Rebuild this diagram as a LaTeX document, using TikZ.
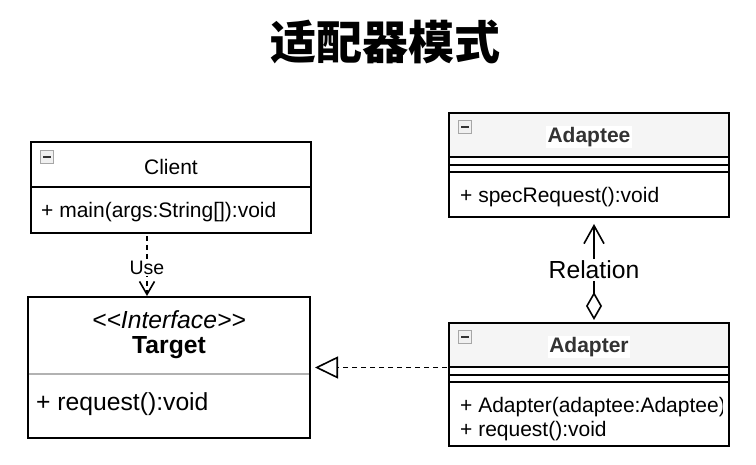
\documentclass[tikz,border=0pt]{standalone}
\usepackage{fontspec}
\setmainfont{Liberation Sans}
\newfontfamily\cjk{Noto Sans CJK SC}
\usetikzlibrary{arrows.meta}
\definecolor{hdr}{HTML}{F5F5F5}
\definecolor{ink}{HTML}{333333}
\begin{document}
\begin{tikzpicture}[x=1pt,y=-1pt,
  box/.style={draw=black,line width=1.8pt,anchor=north west,inner sep=0pt,outer sep=0pt},
  sep/.style={line width=1.8pt},
  txt/.style={font=\fontsize{21}{25}\selectfont,inner sep=0pt},
  big/.style={font=\fontsize{24.7}{29}\selectfont,inner sep=0pt},
  hname/.style={font=\bfseries\fontsize{21}{25}\selectfont,text=ink,fill=white,inner sep=1.5pt},
  lbl/.style={fill=white,inner sep=1.5pt},
  dsh/.style={dash pattern=on 5pt off 4pt,line width=1.6pt},
  icon/.style={draw=gray!70,fill=gray!12,line width=0.6pt,minimum size=13pt,inner sep=0pt,
    path picture={\draw[ink,line width=2.2pt]
      ([xshift=2.5pt]path picture bounding box.west) -- ([xshift=-2.5pt]path picture bounding box.east);}}
]
\useasboundingbox (0,0) rectangle (756,465);
\fill[white] (0,0) rectangle (756,465);

% title
\node[font=\cjk\bfseries\fontsize{46}{50}\selectfont,inner sep=0pt] (title) at (385,42) {适配器模式};

% Client
\node[box,minimum width=280pt,minimum height=91pt] (client) at (31,142) {};
\draw[sep] (31,187) -- (311,187);
\node[icon] (clienticon) at (47,157) {};
\node[txt] (clientname) at (171,167) {Client};
\node[txt,anchor=west] (clientop) at (41,212) {+ main(args:String[]):void};

% Target
\node[box,minimum width=282pt,minimum height=141pt] (target) at (28,297) {};
\draw[gray!60,line width=1.4pt] (28.9,374) -- (309.1,374);
\node[big,font=\itshape\fontsize{24.7}{29}\selectfont] (ttype) at (169,320) {<{}<Interface>{}>};
\node[big,font=\bfseries\fontsize{24.7}{29}\selectfont] (tname) at (169,348) {Target};
\node[big,anchor=west] (top) at (36,404) {+ request():void};

% Adaptee
\fill[hdr] (449,113) rectangle (729,157);
\node[box,minimum width=280pt,minimum height=104pt] (adaptee) at (449,113) {};
\draw[sep] (449,157) -- (729,157);
\draw[sep] (449,165) -- (729,165);
\draw[sep] (449,172) -- (729,172);
\node[icon] (adapteeicon) at (465,127) {};
\node[hname] (adapteename) at (589,137) {Adaptee};
\node[txt,anchor=west] (adapteeop) at (460,197) {+ specRequest():void};

% Adapter
\fill[hdr] (449,323) rectangle (729,367);
\node[box,minimum width=280pt,minimum height=123pt] (adapter) at (449,323) {};
\draw[sep] (449,367) -- (729,367);
\draw[sep] (449,375) -- (729,375);
\draw[sep] (449,382) -- (729,382);
\node[icon] (adaptericon) at (465,337) {};
\node[hname] (adaptername) at (589,347) {Adapter};
\begin{scope}
\clip (450,383) rectangle (722,445);
\node[txt,anchor=west] (adapterop1) at (460,407) {+ Adapter(adaptee:Adaptee)};
\end{scope}
\node[txt,anchor=west] (adapterop2) at (460,431) {+ request():void};

% connectors
\coordinate (ux) at (147,0);
\draw[dsh,-{Straight Barb[length=13pt,width=15pt,line width=1.6pt]},shorten <=3pt,shorten >=1pt]
  (ux |- client.south) -- node[lbl,pos=0.55,font=\fontsize{19.5}{23}\selectfont,inner sep=0.5pt] (uselbl) {Use} (ux |- target.north);

\draw[dsh,-{Triangle[open,length=23pt,width=22pt,line width=1.6pt]},shorten <=2pt,shorten >=5pt]
  (target.east -| adapter.west) -- (target.east);

\coordinate (rx) at (594,0);
\draw[line width=1.6pt,{Diamond[open,length=28pt,width=16pt,line width=1.6pt]}-{Straight Barb[length=18pt,width=20pt,line width=1.6pt]},shorten <=3pt,shorten >=7pt]
  (rx |- adapter.north) -- node[lbl,big,inner sep=1.5pt] (rellbl) {Relation} (rx |- adaptee.south);
\end{tikzpicture}
\end{document}
